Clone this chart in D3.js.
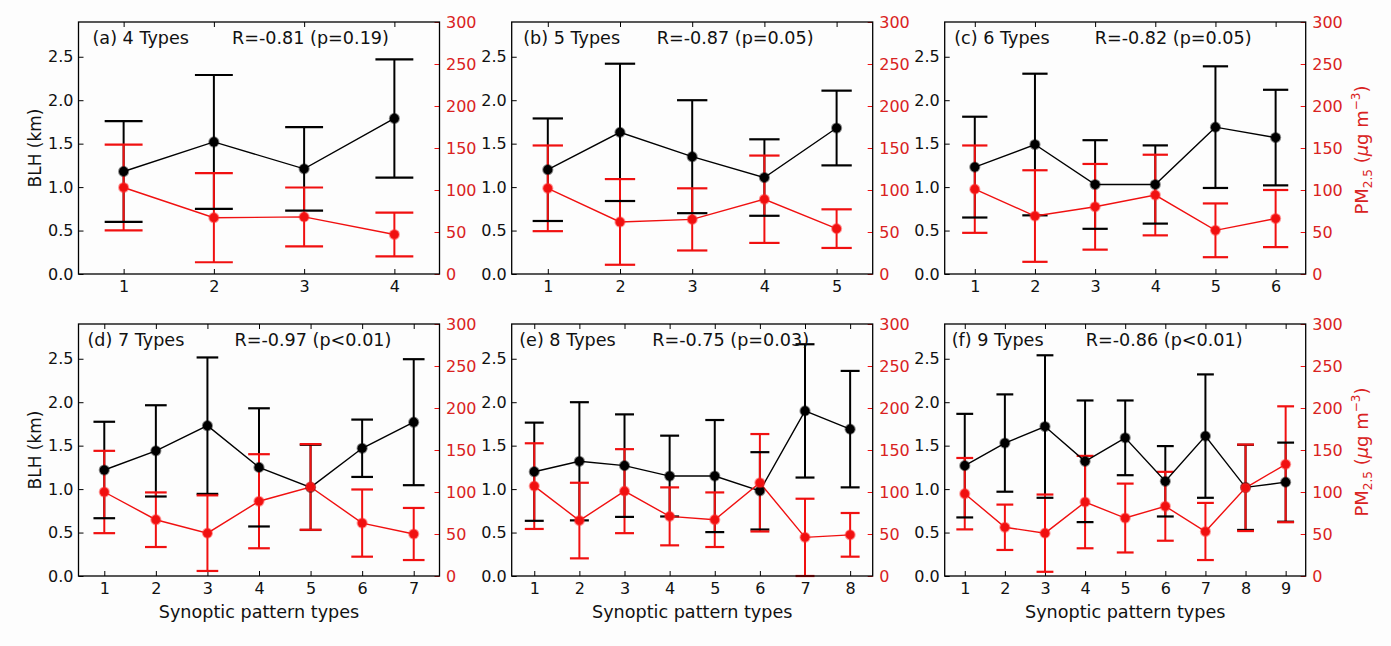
<!DOCTYPE html>
<html>
<head>
<meta charset="utf-8">
<script src="https://cdn.jsdelivr.net/npm/d3@7"></script>
<style>
  html, body { margin: 0; padding: 0; background: #fdfdfd; }
  svg { display: block; font-family: "DejaVu Sans", sans-serif; }
</style>
</head>
<body>
<svg id="chart" width="1391" height="646"></svg>
<script>
// Number of synoptic pattern types in each classification
const typeCounts = [4, 5, 6, 7, 8, 9];
const panelTitles = ["(a) 4 Types", "(b) 5 Types", "(c) 6 Types", "(d) 7 Types", "(e) 8 Types", "(f) 9 Types"];
const corrLabels = ["R=-0.81 (p=0.19)", "R=-0.87 (p=0.05)", "R=-0.82 (p=0.05)",
                    "R=-0.97 (p<0.01)", "R=-0.75 (p=0.03)", "R=-0.86 (p<0.01)"];

// Boundary layer height (km): mean and standard deviation per type
const blhMean = [
  [1.18, 1.52, 1.21, 1.79],
  [1.20, 1.63, 1.35, 1.11, 1.68],
  [1.23, 1.49, 1.03, 1.03, 1.69, 1.57],
  [1.22, 1.44, 1.73, 1.25, 1.02, 1.47, 1.77],
  [1.20, 1.32, 1.27, 1.15, 1.15, 0.98, 1.90, 1.69],
  [1.27, 1.53, 1.72, 1.32, 1.59, 1.09, 1.61, 1.02, 1.08]
];
const blhSd = [
  [0.58, 0.77, 0.48, 0.68],
  [0.59, 0.79, 0.65, 0.44, 0.43],
  [0.58, 0.815, 0.51, 0.45, 0.70, 0.55],
  [0.555, 0.525, 0.785, 0.68, 0.49, 0.33, 0.725],
  [0.565, 0.68, 0.59, 0.465, 0.645, 0.445, 0.767, 0.67],
  [0.596, 0.56, 0.82, 0.70, 0.43, 0.405, 0.71, 0.49, 0.455]
];

// PM2.5 concentration (ug m-3): mean and standard deviation per type
const pmMean = [
  [103, 67, 68, 47],
  [102, 62, 65, 89, 54],
  [101, 69, 80, 94, 52, 66],
  [100, 67, 51, 89, 106, 63, 50],
  [107, 66, 101, 71, 67, 111, 46, 49],
  [98, 58, 51, 88, 69, 83, 53, 105, 133]
];
const pmSd = [
  [51, 53, 35, 26],
  [51, 51, 37, 52, 23],
  [52, 54.5, 51, 48, 32, 34],
  [49, 32.5, 45, 56, 51, 40, 31],
  [51, 45, 50, 34.5, 32.5, 58, 46, 26],
  [42.5, 27, 46, 55, 41, 41, 34, 51.5, 69]
];

const blhTicks = [0, 0.5, 1.0, 1.5, 2.0, 2.5];
const pmTicks = [0, 50, 100, 150, 200, 250, 300];

// ---- layout ----
const colLeft = [78.5, 511.7, 944.7];
const rowTop = [22, 324];
const plotW = 361, plotH = 252;
const titleOffset = [14, 11.5, 9.5, 9, 7.5, 7];
const corrOffset = [153.5, 145, 150, 156, 140.5, 141];

const RED = "#f01010";
const RED_TEXT = "#d92222";
const FS_TICK = 16, FS_LABEL = 17.6;

const svg = d3.select("#chart");

typeCounts.forEach((n, p) => {
  const col = p % 3, row = Math.floor(p / 3);
  const g = svg.append("g").attr("transform", `translate(${colLeft[col]},${rowTop[row]})`);
  const types = d3.range(1, n + 1);

  const x = d3.scaleLinear().domain([0.5, n + 0.5]).range([0, plotW]);
  const yB = d3.scaleLinear().domain([0, 2.9]).range([plotH, 0]);
  const yP = d3.scaleLinear().domain([0, 300]).range([plotH, 0]);
  const capHalf = (x(1.21) - x(1));

  const blh = types.map((t, i) => ({ t, m: blhMean[p][i], s: blhSd[p][i] }));
  const pm = types.map((t, i) => ({ t, m: pmMean[p][i], s: pmSd[p][i] }));

  // axes (ticks pointing inward)
  const axL = g.append("g").call(d3.axisLeft(yB).tickValues(blhTicks).tickFormat(d3.format(".1f"))
    .tickSizeInner(-5).tickSizeOuter(0).tickPadding(5));
  const axR = g.append("g").attr("transform", `translate(${plotW},0)`)
    .call(d3.axisRight(yP).tickValues(pmTicks).tickFormat(d3.format("d"))
    .tickSizeInner(-5).tickSizeOuter(0).tickPadding(6.5));
  const axB = g.append("g").attr("transform", `translate(0,${plotH})`)
    .call(d3.axisBottom(x).tickValues(types).tickFormat(d3.format("d"))
    .tickSizeInner(-5).tickSizeOuter(0).tickPadding(6.5));
  const axT = g.append("g")
    .call(d3.axisTop(x).tickValues(types).tickFormat("").tickSizeInner(-5).tickSizeOuter(0));

  [axL, axR, axB, axT].forEach(a => {
    a.select(".domain").remove();
    a.selectAll("text").attr("font-size", FS_TICK).attr("font-family", "DejaVu Sans");
    a.selectAll("line").attr("stroke-width", 1);
  });
  axL.selectAll("line").attr("stroke", "#000");
  axL.selectAll("text").attr("fill", "#111");
  axB.selectAll("text").attr("fill", "#111");
  axR.selectAll("line").attr("stroke", RED);
  axR.selectAll("text").attr("fill", RED_TEXT);

  // error bars: verticals
  g.selectAll(".bv").data(blh).join("line").attr("class", "bv")
    .attr("x1", d => x(d.t)).attr("x2", d => x(d.t))
    .attr("y1", d => yB(d.m - d.s)).attr("y2", d => yB(d.m + d.s))
    .attr("stroke", "#000").attr("stroke-width", 2);
  g.selectAll(".pv").data(pm).join("line").attr("class", "pv")
    .attr("x1", d => x(d.t)).attr("x2", d => x(d.t))
    .attr("y1", d => yP(Math.max(0, d.m - d.s))).attr("y2", d => yP(d.m + d.s))
    .attr("stroke", RED).attr("stroke-width", 2);

  // error bar caps
  const caps = (data, y, color, cls) => {
    const ends = data.flatMap(d => [{ t: d.t, v: d.m - d.s }, { t: d.t, v: d.m + d.s }]);
    g.selectAll("." + cls).data(ends).join("line").attr("class", cls)
      .attr("x1", d => x(d.t) - capHalf).attr("x2", d => x(d.t) + capHalf)
      .attr("y1", d => y(d.v)).attr("y2", d => y(d.v))
      .attr("stroke", color).attr("stroke-width", 2.2);
  };
  caps(blh, yB, "#000", "bc");
  caps(pm, yP, RED, "pc");

  // mean lines
  g.append("path").datum(blh)
    .attr("d", d3.line().x(d => x(d.t)).y(d => yB(d.m)))
    .attr("fill", "none").attr("stroke", "#000").attr("stroke-width", 1.4);
  g.append("path").datum(pm)
    .attr("d", d3.line().x(d => x(d.t)).y(d => yP(d.m)))
    .attr("fill", "none").attr("stroke", RED).attr("stroke-width", 1.4);

  // markers
  g.selectAll(".bm").data(blh).join("circle").attr("class", "bm")
    .attr("cx", d => x(d.t)).attr("cy", d => yB(d.m)).attr("r", 4.6)
    .attr("fill", "#000").attr("stroke", "rgba(0,0,0,0.45)").attr("stroke-width", 2);
  g.selectAll(".pm").data(pm).join("circle").attr("class", "pm")
    .attr("cx", d => x(d.t)).attr("cy", d => yP(d.m)).attr("r", 4.6)
    .attr("fill", RED).attr("stroke", "rgba(255,40,40,0.45)").attr("stroke-width", 2);

  // frame
  g.append("rect").attr("x", 0).attr("y", 0).attr("width", plotW).attr("height", plotH)
    .attr("fill", "none").attr("stroke", "#000").attr("stroke-width", 1.3);

  // panel annotations
  g.append("text").attr("x", titleOffset[p]).attr("y", 21.5)
    .attr("font-size", FS_LABEL).attr("fill", "#111").text(panelTitles[p]);
  g.append("text").attr("x", corrOffset[p]).attr("y", 21.5)
    .attr("font-size", FS_LABEL).attr("fill", "#111").text(corrLabels[p]);

  // left axis label
  if (col === 0) {
    g.append("text").attr("transform", `translate(${41 - colLeft[0]},${plotH / 2}) rotate(-90)`)
      .attr("text-anchor", "middle").attr("font-size", 17).attr("fill", "#111").text("BLH (km)");
  }
  // right axis label
  if (col === 2) {
    const t = g.append("text")
      .attr("transform", `translate(${plotW + 62},${plotH / 2 + 2}) rotate(-90)`)
      .attr("text-anchor", "middle").attr("font-size", 18).attr("fill", RED_TEXT);
    t.append("tspan").text("PM");
    t.append("tspan").attr("font-size", 12).attr("dy", 4).text("2.5");
    t.append("tspan").attr("dy", -4).text(" (");
    t.append("tspan").attr("font-style", "italic").text("\u03bc");
    t.append("tspan").text("g m");
    t.append("tspan").attr("font-size", 12).attr("dy", -8).text("\u22123");
    t.append("tspan").attr("dy", 8).text(")");
  }
  // x axis label
  if (row === 1) {
    g.append("text").attr("x", plotW / 2).attr("y", plotH + 42)
      .attr("text-anchor", "middle").attr("font-size", FS_LABEL).attr("fill", "#111")
      .text("Synoptic pattern types");
  }
});
</script>
</body>
</html>
